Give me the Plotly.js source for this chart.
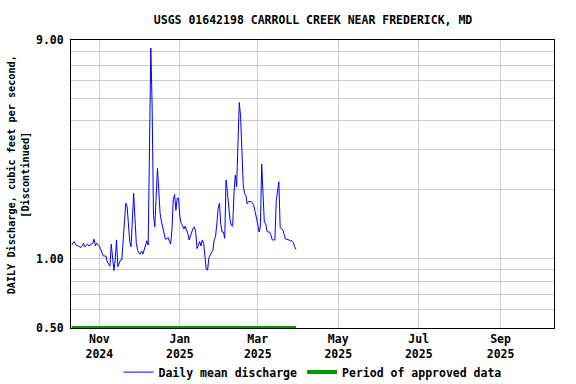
<!DOCTYPE html>
<html>
<head>
<meta charset="utf-8">
<script src="https://cdn.plot.ly/plotly-3.0.1.min.js"></script>
<style>html,body{margin:0;padding:0;background:#fff;}#chart{width:576px;height:384px;}</style>
</head>
<body>
<div id="chart"></div>
<script>
// Daily mean discharge, cfs, one value per day starting 2024-10-11
const startDate = "2024-10-11";
const dischargeValues = [
  1.15,1.17,1.19,1.16,1.14,1.14,1.13,1.12,1.14,1.17,1.13,1.15,1.16,1.14,1.15,1.17,1.17,1.22,1.14,1.17,1.16,1.14,
  1.10,1.05,1.03,1.03,1.03,0.97,0.955,0.93,1.16,1.03,0.89,0.99,1.21,0.925,0.97,0.99,0.99,1.23,1.53,1.75,1.70,1.43,1.19,1.13,1.43,1.93,1.49,1.17,1.09,1.06,1.05,1.08,1.05,1.10,1.13,1.20,1.15,
  3.08,8.3,4.54,
  1.55,1.38,1.83,2.48,2.0,1.58,1.46,1.37,1.29,1.22,1.22,1.24,1.20,1.16,1.34,1.81,1.91,1.63,1.84,1.84,1.53,1.43,1.40,1.35,1.39,1.34,1.29,1.21,1.27,1.31,1.36,1.38,1.31,1.11,1.15,1.19,1.14,1.21,1.17,1.03,0.90,0.895,1.01,1.04,1.07,1.09,1.21,1.25,1.42,1.66,1.75,1.42,1.31,1.31,1.23,2.21,1.95,1.63,1.48,1.40,1.39,1.93,2.32,2.06,2.9,4.81,4.2,2.59,2.10,1.93,1.89,1.74,1.78,1.78,1.78,1.75,1.71,1.61,1.53,1.42,1.31,1.38,2.59,2.06,1.44,1.43,1.32,1.31,1.31,1.27,1.21,1.21,1.21,1.78,2.03,2.17,1.37,1.36,1.34,1.28,1.22,1.22,1.21,1.21,1.20,1.20,1.18,1.13,1.10
];
const approvedPeriod = ["2024-10-11", "2025-03-30"];
const approvedLevel = [0.5, 0.5];

const xTickVals = ["2024-11-01","2025-01-01","2025-03-01","2025-05-01","2025-07-01","2025-09-01"];
const xTickText = ["Nov<br>2024","Jan<br>2025","Mar<br>2025","May<br>2025","Jul<br>2025","Sep<br>2025"];
const yTickVals = [0.5,0.6,0.7,0.8,0.9,1,2,3,4,5,6,7,8,9];
const yTickText = ["0.50","","","","","1.00","","","","","","","","9.00"];

const titleText = "USGS 01642198 CARROLL CREEK NEAR FREDERICK, MD";
const yTitleText = "DAILY Discharge, cubic feet per second,<br>[Discontinued]";

function dayList(start, n) {
  const out = [];
  const d0 = new Date(start + "T00:00:00Z");
  for (let i = 0; i < n; i++) {
    const d = new Date(d0.getTime() + i * 86400000);
    out.push(d.toISOString().slice(0, 10));
  }
  return out;
}
const dates = dayList(startDate, dischargeValues.length);

const FONT = "'DejaVu Sans Mono', 'Liberation Mono', monospace";

const traces = [
  {
    x: dates, y: dischargeValues, type: "scatter", mode: "lines",
    name: "Daily mean discharge",
    line: {color: "#0000FF", width: 1}
  },
  {
    x: approvedPeriod, y: approvedLevel, type: "scatter", mode: "lines",
    name: "Period of approved data",
    line: {color: "#009900", width: 4},
    cliponaxis: false
  }
];

const layout = {
  width: 576, height: 384,
  margin: {l: 71, r: 22, t: 40, b: 56, pad: 0, autoexpand: false},
  paper_bgcolor: "#ffffff", plot_bgcolor: "#ffffff",
  font: {family: FONT, size: 11.5, color: "#000000", weight: "bold"},
  title: {text: "<b>" + titleText + "</b>", x: 0.5435, xanchor: "center", y: 0.948, yanchor: "middle",
          font: {family: FONT, size: 11.5, color: "#000"}},
  showlegend: true,
  legend: {orientation: "h", x: 0.5, xanchor: "center", yref: "container", y: 0.031, yanchor: "middle",
           font: {family: FONT, size: 11.5, color: "#000", weight: "bold"},
           itemwidth: 30, tracegroupgap: 0, bgcolor: "rgba(0,0,0,0)"},
  xaxis: {
    type: "date", automargin: false,
    range: ["2024-10-10 12:00", "2025-10-11 12:00"],
    tickmode: "array", tickvals: xTickVals, ticktext: xTickText,
    showgrid: true, gridcolor: "#CCCCCC", gridwidth: 1,
    showline: true, linecolor: "#000", linewidth: 1, mirror: true,
    ticks: "", zeroline: false,
    tickfont: {family: FONT, size: 11.5, color: "#000", weight: "bold"}
  },
  yaxis: {
    type: "log", automargin: false,
    range: [Math.log10(0.5), Math.log10(9)],
    tickmode: "array", tickvals: yTickVals, ticktext: yTickText,
    showgrid: true, gridcolor: "#CCCCCC", gridwidth: 1,
    showline: true, linecolor: "#000", linewidth: 1, mirror: true,
    ticks: "", zeroline: false, ticklabelstandoff: 4,
    tickfont: {family: FONT, size: 11.5, color: "#000", weight: "bold"}
  },
  annotations: [{
    text: "<b>" + yTitleText + "</b>", textangle: -90,
    xref: "paper", yref: "paper", x: -0.108, y: 0.533,
    xanchor: "center", yanchor: "middle", showarrow: false,
    font: {family: FONT, size: 10.2, color: "#000"}
  }]
};

Plotly.newPlot("chart", traces, layout, {displayModeBar: false, staticPlot: true});
</script>
</body>
</html>
